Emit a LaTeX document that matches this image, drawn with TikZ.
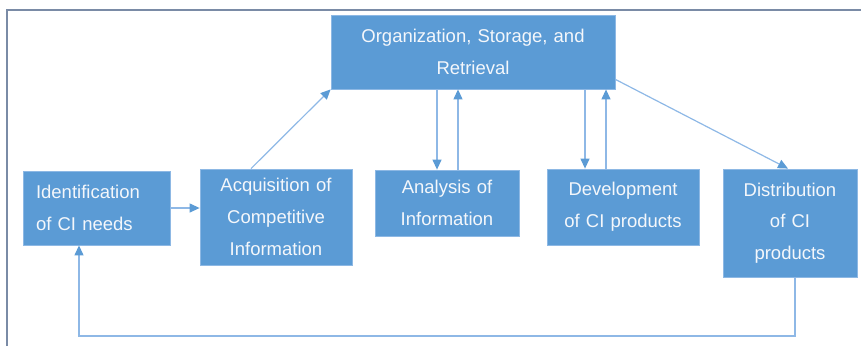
\documentclass[tikz,border=0pt]{standalone}
\usepackage{fontspec}
\setmainfont{Liberation Sans}
\usetikzlibrary{arrows.meta}
\definecolor{boxfill}{HTML}{5B9BD5}
\definecolor{boxedge}{HTML}{8DB8E4}
\definecolor{linkline}{HTML}{8EB8E6}
\definecolor{tipcol}{HTML}{5B9BD5}
\definecolor{framecol}{HTML}{7A8BA6}
\definecolor{boxtext}{HTML}{F4F7FB}
\tikzset{
  stagebox/.style={rectangle, fill=boxfill, draw=boxedge, line width=0.8pt,
    text=boxtext, inner sep=0pt, align=center,
    font=\fontsize{18.5}{31.7}\selectfont},
  link/.style={draw=linkline, line width=1.2pt,
    -{Triangle[length=10pt,width=9pt,color=tipcol]}},
  framestyle/.style={draw=framecol, line width=1.2pt}
}
\begin{document}
\begin{tikzpicture}[x=1pt,y=-1pt]
\useasboundingbox (0,0) rectangle (861,346);
% outer frame (left and top edges)
\draw[framestyle] (7,346) -- (7,10) -- (861,10);

% process stages
\node[stagebox, minimum width=284pt, minimum height=74pt, text width=270pt]
  (org) at (473,52) {Organization, Storage, and\\Retrieval};
\node[stagebox, minimum width=147pt, minimum height=74pt, text width=121pt, align=left]
  (ident) at (96.5,208) {Identification\\of CI needs};
\node[stagebox, minimum width=152pt, minimum height=96pt, text width=140pt]
  (acq) at (276,217) {Acquisition of\\Competitive\\Information};
\node[stagebox, minimum width=144pt, minimum height=66pt, text width=132pt]
  (ana) at (447,203) {Analysis of\\Information};
\node[stagebox, minimum width=152pt, minimum height=76pt, text width=140pt]
  (dev) at (623,207) {Development\\of CI products};
\node[stagebox, minimum width=134pt, minimum height=108pt, text width=122pt]
  (dist) at (790,223) {Distribution\\of CI\\products};

% connection points
\coordinate (anaIn)  at ([xshift=-10pt]ana.north);
\coordinate (anaOut) at ([xshift=11pt]ana.north);
\coordinate (devIn)  at ([xshift=-38pt]dev.north);
\coordinate (devOut) at ([xshift=-17pt]dev.north);
\coordinate (acqOut) at ([xshift=-25pt]acq.north);
\coordinate (orgOut) at ([yshift=10pt]org.south east);
\coordinate (distOut) at ([xshift=5pt]dist.south);
\coordinate (identIn) at ([xshift=-17.5pt]ident.south);
\coordinate (loopR) at (distOut |- 0,336);
\coordinate (loopL) at (identIn |- 0,336);

% flows
\draw[link] (ident.east) -- (ident.east -| acq.west);
\draw[link] (acqOut) -- (org.south west);
\draw[link] (anaIn |- org.south) -- (anaIn);
\draw[link] (anaOut) -- (anaOut |- org.south);
\draw[link] (devIn |- org.south) -- (devIn);
\draw[link] (devOut) -- (devOut |- org.south);
\draw[link] (orgOut) -- ([xshift=-2pt]dist.north);
\draw[link] (distOut) -- (loopR) -- (loopL) -- (identIn);
\end{tikzpicture}
\end{document}
